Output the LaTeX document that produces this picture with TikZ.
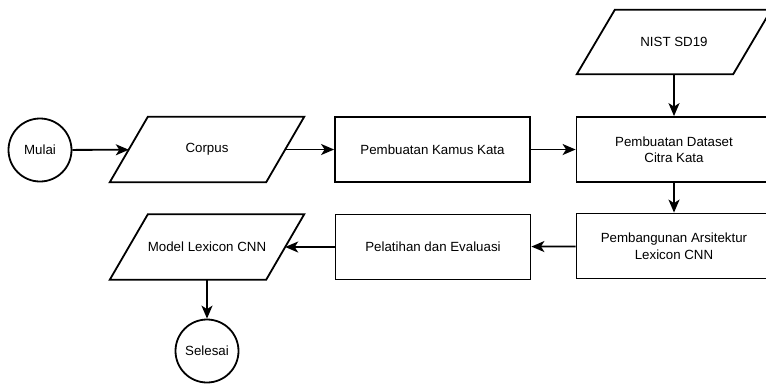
\documentclass[tikz,border=0pt]{standalone}
\usepackage{fontspec}
\setmainfont{Liberation Sans}
\usetikzlibrary{arrows.meta}
\begin{document}
\begin{tikzpicture}[x=1pt,y=1pt,
  font=\fontsize{13.3}{16.5}\selectfont,
  proc/.style={draw,line width=1.8pt,minimum width=195pt,minimum height=65pt,align=center,inner sep=0pt},
  data/.style={minimum width=156pt,minimum height=65pt,align=center,inner sep=0pt},
  term/.style={draw,line width=1.8pt,circle,minimum size=63pt,inner sep=0pt},
  flow/.style={line width=1.8pt,-{Stealth[length=13pt,width=11pt,inset=3.5pt]}}]
\useasboundingbox (0,0) rectangle (766,-384);
\node[term] (mulai) at (40,-150) {Mulai};
\node[data] (corpus) at (207,-149.5) {Corpus};
\node[proc] (kamus) at (432.5,-149.5) {Pembuatan Kamus Kata};
\node[proc] (dataset) at (674,-149.5) {Pembuatan Dataset\\Citra Kata};
\node[data,minimum height=64pt] (nist) at (674,-42) {NIST SD19};
\node[proc] (arsitektur) at (674,-246) {Pembangunan Arsitektur\\Lexicon CNN};
\node[proc] (pelatihan) at (433,-247) {Pelatihan dan Evaluasi};
\node[data] (model) at (207,-247) {Model Lexicon CNN};
\node[term] (selesai) at (207,-351) {Selesai};
\foreach \n in {corpus,nist,model}
  \draw[line width=1.8pt] ([xshift=-19pt]\n.south west) -- ([xshift=19pt]\n.north west)
    -- ([xshift=19pt]\n.north east) -- ([xshift=-19pt]\n.south east) -- cycle;
\draw[flow] (mulai) -- (corpus);
\draw[flow] (corpus) -- (kamus);
\draw[flow] (kamus) -- (dataset);
\draw[flow] (nist) -- (dataset);
\draw[flow] (dataset) -- (arsitektur);
\draw[flow] (arsitektur) -- (pelatihan);
\draw[flow] (pelatihan) -- (model);
\draw[flow] (model) -- (selesai);
\end{tikzpicture}
\end{document}
